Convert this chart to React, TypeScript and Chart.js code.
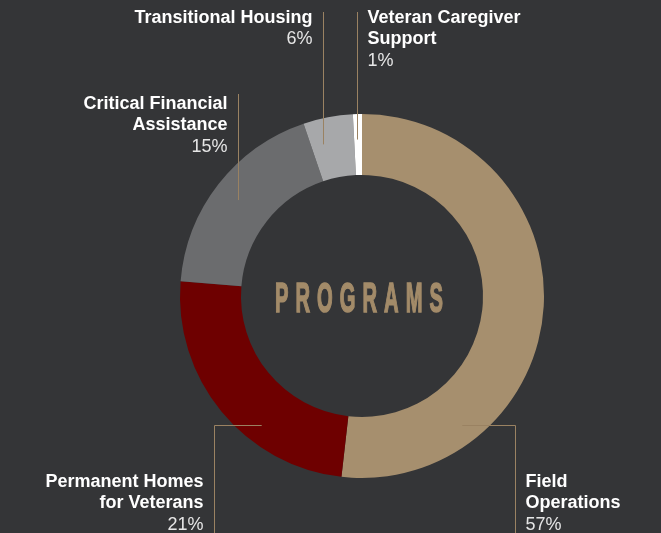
import React, { useEffect, useRef } from "react";
import { Chart, registerables } from "chart.js";
Chart.register(...registerables);

const categories = [
  "Field Operations",
  "Permanent Homes for Veterans",
  "Critical Financial Assistance",
  "Transitional Housing",
  "Veteran Caregiver Support",
];
const labelLines = [
  ["Field", "Operations"],
  ["Permanent Homes", "for Veterans"],
  ["Critical Financial", "Assistance"],
  ["Transitional Housing"],
  ["Veteran Caregiver", "Support"],
];
// percentages printed on the labels
const labelPercents = [57, 21, 15, 6, 1];
// slice sizes as drawn in the picture
const sliceShares = [51.8, 24.5, 18.5, 4.4, 0.8];
const sliceColors = ["#a68f6e", "#6e0000", "#6b6c6e", "#a7a8aa", "#ffffff"];
const centerTitle = "PROGRAMS";

const W = 661;
const H = 533;
const BG = "#343537";
const LEADER = "#9a8262";
const TITLE_COLOR = "#a38b69";

type Layout = { kind: "top" | "bottom"; side: "left" | "right"; lineTop?: number; textY: number; lineDx?: number };
const layouts: Layout[] = [
  { kind: "bottom", side: "right", textY: 482, lineDx: 153 },
  { kind: "bottom", side: "left", textY: 482, lineDx: -148 },
  { kind: "top", side: "left", lineTop: 94, textY: 104 },
  { kind: "top", side: "left", lineTop: 12, textY: 18 },
  { kind: "top", side: "right", lineTop: 12, textY: 18 },
];

const FONT = "'Liberation Sans', Arial, sans-serif";

const labelPlugin = {
  id: "labelPlugin",
  beforeDraw(chart: any) {
    const ctx = chart.ctx;
    ctx.save();
    ctx.fillStyle = BG;
    ctx.fillRect(0, 0, chart.width, chart.height);
    ctx.restore();
  },
  afterDraw(chart: any) {
    const ctx: CanvasRenderingContext2D = chart.ctx;
    const meta = chart.getDatasetMeta(0);
    const arcs = meta.data;
    if (!arcs.length) return;
    const cx = arcs[0].x;
    const cy = arcs[0].y;
    const R = arcs[0].outerRadius;
    const totalPct = labelPercents.reduce((a, b) => a + b, 0);
    let cum = 0;
    const midAngles = labelPercents.map((p) => {
      const m = -Math.PI / 2 + ((cum + p / 2) / totalPct) * Math.PI * 2;
      cum += p;
      return m;
    });
    ctx.save();
    ctx.lineWidth = 1;
    ctx.strokeStyle = LEADER;
    const lh = 21.5;
    layouts.forEach((L, i) => {
      let lineX = 0;
      ctx.beginPath();
      if (L.kind === "top") {
        const r = R * 0.86;
        const ax = cx + r * Math.cos(midAngles[i]);
        const ay = cy + r * Math.sin(midAngles[i]);
        lineX = Math.round(ax) + 0.5;
        ctx.moveTo(lineX, L.lineTop!);
        ctx.lineTo(lineX, ay);
      } else {
        const hy = Math.round(cy + R * 0.71) + 0.5;
        const r = R * 0.9;
        const dx = Math.sqrt(Math.max(0, r * r - (hy - cy) * (hy - cy)));
        const ax = L.side === "right" ? cx + dx : cx - dx;
        lineX = Math.round(cx + L.lineDx!) + 0.5;
        ctx.moveTo(ax, hy);
        ctx.lineTo(lineX, hy);
        ctx.lineTo(lineX, H);
      }
      ctx.stroke();

      const tx = L.side === "left" ? lineX - 11 : lineX + 10;
      ctx.textAlign = L.side === "left" ? "right" : "left";
      ctx.textBaseline = "middle";
      const lines = labelLines[i];
      lines.forEach((t, k) => {
        ctx.font = `bold 18px ${FONT}`;
        ctx.fillStyle = "#ffffff";
        ctx.fillText(t, tx, L.textY + k * lh);
      });
      ctx.font = `18px ${FONT}`;
      ctx.fillStyle = "#e6e6e6";
      ctx.fillText(`${labelPercents[i]}%`, tx, L.textY + lines.length * lh);
    });

    // centre title, condensed with wide spacing
    const s = 0.48;
    ctx.font = `bold 42px ${FONT}`;
    ctx.fillStyle = TITLE_COLOR;
    ctx.strokeStyle = TITLE_COLOR;
    ctx.textAlign = "left";
    ctx.textBaseline = "alphabetic";
    const chars = centerTitle.split("");
    const widths = chars.map((c) => ctx.measureText(c).width * s);
    const totalTarget = 168;
    const gap = (totalTarget - widths.reduce((p, q) => p + q, 0)) / (chars.length - 1);
    let x = cx - 3 - totalTarget / 2;
    const baseY = cy + 16;
    chars.forEach((c, k) => {
      ctx.save();
      ctx.translate(x, baseY);
      ctx.scale(s, 1);
      ctx.fillText(c, 0, 0);
      ctx.lineWidth = 1.6;
      ctx.strokeText(c, 0, 0);
      ctx.restore();
      x += widths[k] + gap;
    });
    ctx.restore();
  },
};

export default function App() {
  const ref = useRef<HTMLCanvasElement | null>(null);
  useEffect(() => {
    document.body.style.margin = "0";
    document.body.style.background = BG;
    const chart = new Chart(ref.current!, {
      type: "doughnut",
      data: {
        labels: categories,
        datasets: [
          {
            data: sliceShares,
            backgroundColor: sliceColors,
            borderWidth: 0,
          },
        ],
      },
      options: {
        responsive: false,
        animation: false,
        cutout: "66.5%",
        layout: { padding: { left: 180, right: 117, top: 114, bottom: 55 } },
        plugins: { legend: { display: false }, tooltip: { enabled: false } },
      },
      plugins: [labelPlugin],
    });
    return () => chart.destroy();
  }, []);
  return (
    <div style={{ width: W, height: H, background: BG }}>
      <canvas ref={ref} width={W} height={H} style={{ display: "block" }} />
    </div>
  );
}
